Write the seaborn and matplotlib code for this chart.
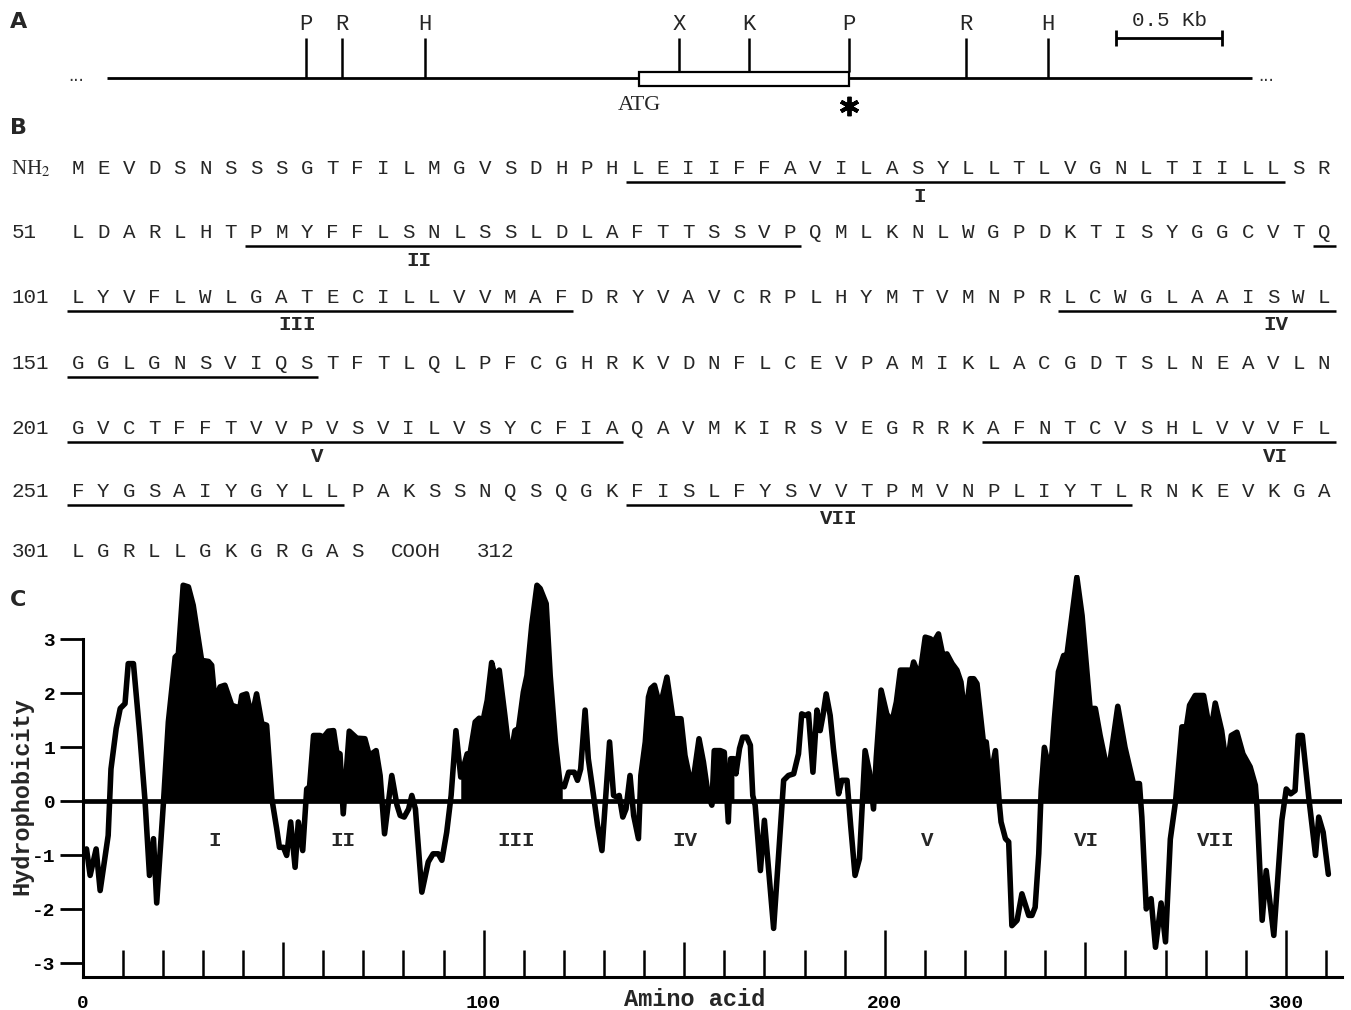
import numpy as np
import matplotlib
matplotlib.use("Agg")
import matplotlib.pyplot as plt
import seaborn as sns
from matplotlib.patches import Rectangle

# ---------------- data ----------------
# Panel A: restriction map (positions in kb from left end of the drawn line)
site_labels = ["P", "R", "H", "X", "K", "P", "R", "H"]
site_kb = [0.94, 1.11, 1.50, 2.70, 3.03, 3.50, 4.05, 4.44]
orf_kb = [2.51, 3.50]
map_len_kb = 5.40
scalebar_kb = [4.76, 5.26]
scalebar_label = "0.5 Kb"

# Panel B: amino-acid sequence (50 residues per row)
seq_rows = [
    "MEVDSNSSSGTFILMGVSDHPHLEIIFFAVILASYLLTLVGNLTIILLSR",
    "LDARLHTPMYFFLSNLSSLDLAFTTSSVPQMLKNLWGPDKTISYGGCVTQ",
    "LYVFLWLGATECILLVVMAFDRYVAVCRPLHYMTVMNPRLCWGLAAISWL",
    "GGLGNSVIQSTFTLQLPFCGHRKVDNFLCEVPAMIKLACGDTSLNEAVLN",
    "GVCTFFTVVPVSVILVSYCFIAQAVMKIRSVEGRRKAFNTCVSHLVVVFL",
    "FYGSAIYGYLLPAKSSNQSQGKFISLFYSVVTPMVNPLIYTLRNKEVKGA",
    "LGRLLGKGRGAS",
]
row_numbers = ["NH$_2$", "51", "101", "151", "201", "251", "301"]
tm_names = ["I", "II", "III", "IV", "V", "VI", "VII"]
tm_start = [23, 58, 100, 140, 201, 237, 273]
tm_end = [48, 79, 120, 160, 222, 261, 292]
tm_label_row = [0, 1, 2, 2, 4, 4, 5]
tm_label_col = [33.1, 13.4, 8.6, 47.1, 9.4, 47.1, 29.9]

# Panel C: hydrophobicity profile
residue = [1.0, 1.9, 3.4, 4.4, 6.4, 7.1, 8.4, 9.4, 10.6, 11.4, 12.7, 14.3, 15.6, 16.7,
           17.7, 18.5, 20.2, 21.4, 23.1, 23.9, 25.1, 26.4, 27.6, 29.7, 31.4, 32.2,
           33.0, 34.3, 35.5, 37.2, 38.3, 38.9, 39.7, 40.9, 42.2, 43.4, 44.7, 45.9,
           47.2, 48.4, 49.1, 50.1, 50.9, 51.9, 53.0, 53.8, 54.9, 55.9, 56.6, 57.6,
           59.2, 60.1, 61.3, 62.6, 63.4, 64.2, 65.0, 66.5, 68.4, 70.4, 71.5, 73.2,
           74.2, 75.3, 77.1, 78.4, 79.2, 80.2, 81.3, 82.1, 83.0, 84.6, 86.2, 87.4,
           88.7, 89.6, 90.8, 91.9, 93.1, 94.3, 95.9, 96.6, 97.9, 98.9, 99.9, 100.9,
           102.0, 102.8, 103.9, 105.3, 106.6, 107.8, 108.7, 109.9, 110.8, 112.0,
           113.3, 114.1, 115.6, 116.6, 117.9, 119.1, 120.1, 121.2, 122.6, 123.4,
           124.2, 125.3, 126.1, 127.4, 128.4, 129.5, 131.4, 132.4, 133.2, 133.8,
           134.7, 135.5, 136.5, 137.4, 138.6, 139.2, 140.3, 141.1, 141.7, 142.6,
           144.0, 145.7, 147.2, 149.2, 150.2, 151.5, 152.3, 153.7, 154.8, 156.0,
           156.9, 157.5, 159.0, 160.0, 161.0, 161.6, 162.4, 162.9, 163.8, 164.6,
           165.6, 166.5, 167.1, 167.7, 169.0, 170.0, 172.3, 174.8, 176.0, 177.3,
           178.5, 179.3, 180.2, 181.0, 182.1, 183.1, 183.9, 184.6, 185.4, 186.4,
           187.2, 188.5, 189.3, 190.6, 191.5, 192.6, 193.7, 195.1, 196.2, 197.2,
           197.9, 199.1, 200.5, 201.8, 202.9, 203.9, 205.9, 206.4, 207.2, 208.7,
           210.1, 211.4, 212.2, 213.4, 214.5, 215.5, 216.8, 218.0, 219.0, 220.1,
           221.3, 222.2, 223.0, 224.6, 225.3, 226.3, 227.6, 228.6, 229.0, 230.1,
           230.9, 231.7, 233.0, 234.2, 235.9, 236.7, 237.5, 238.4, 239.0, 239.8,
           241.3, 242.3, 243.3, 244.6, 245.4, 247.9, 249.2, 251.2, 252.5, 253.7,
           255.7, 258.1, 259.9, 262.0, 263.5, 264.1, 265.2, 266.4, 267.5, 268.9,
           270.0, 271.2, 272.5, 274.1, 275.2, 276.0, 277.4, 279.5, 281.2, 282.4,
           284.0, 285.3, 286.4, 287.8, 289.3, 291.1, 292.4, 292.8, 294.1, 295.1,
           297.0, 299.0, 300.1, 301.2, 302.3, 303.1, 304.1, 305.7, 307.4, 308.2,
           309.3, 310.6]
hydro = [-0.88, -1.37, -0.88, -1.65, -0.63, 0.60, 1.35, 1.72, 1.81, 2.55, 2.55, 1.22, 0.00, -1.37,
         -0.69, -1.88, 0.00, 1.47, 2.67, 2.73, 4.00, 3.97, 3.63, 2.61, 2.59, 2.52,
         1.87, 2.12, 2.15, 1.78, 1.75, 1.56, 1.96, 1.99, 1.56, 1.99, 1.44, 1.41,
         0.05, -0.50, -0.85, -0.85, -1.00, -0.38, -1.22, -0.38, -0.91, 0.23, 0.27, 1.22,
         1.22, 1.19, 1.30, 1.31, 0.91, 0.88, -0.23, 1.30, 1.17, 1.16, 0.85, 0.94,
         0.48, -0.60, 0.48, -0.07, -0.26, -0.29, -0.14, 0.11, -0.14, -1.68, -1.12, -0.97,
         -0.97, -1.09, -0.57, 0.11, 1.31, 0.45, 0.88, 0.88, 1.47, 1.54, 1.51, 1.87,
         2.57, 2.33, 2.43, 1.59, 0.76, 1.31, 1.35, 2.02, 2.33, 3.26,
         4.00, 3.94, 3.66, 2.33, 1.10, 0.30, 0.27, 0.54, 0.54, 0.39,
         0.60, 1.69, 0.79, 0.11, -0.44, -0.91, 1.10, 0.11, 0.08, 0.11,
         -0.29, -0.14, 0.48, -0.26, -0.69, 0.48, 1.10, 1.93, 2.09, 2.15,
         1.75, 2.30, 1.53, 1.53, 0.85, 0.39, 0.42, 1.16, 0.73, 0.11,
         -0.07, 0.94, 0.94, 0.91, -0.38, 0.79, 0.79, 0.51, 0.98, 1.19,
         1.19, 1.04, 0.11, -0.07, -1.28, -0.35, -2.35, 0.39, 0.48, 0.51,
         0.88, 1.62, 1.59, 1.62, 0.54, 1.69, 1.31, 1.59, 1.99, 1.59,
         0.98, 0.14, 0.39, 0.39, -0.44, -1.37, -1.06, 0.94, 0.54, -0.14,
         0.82, 2.06, 1.62, 1.47, 1.84, 2.43, 2.43, 2.30, 2.58, 2.30,
         3.04, 3.01, 2.95, 3.10, 2.70, 2.73, 2.55, 2.43, 2.21, 1.53,
         2.27, 2.27, 2.18, 1.10, 1.10, 0.43, 0.94, -0.07, -0.38, -0.69,
         -0.75, -2.30, -2.20, -1.71, -2.11, -2.11, -1.96, -0.97, 0.20, 1.00,
         0.51, 1.53, 2.40, 2.70, 2.70, 4.15, 3.44, 1.72, 1.72, 1.22,
         0.50, 1.76, 1.00, 0.33, 0.33, -0.29, -1.99, -1.80, -2.70, -1.88,
         -2.60, -0.70, 0.00, 1.38, 1.38, 1.78, 1.96, 1.96, 1.25, 1.82,
         1.31, 0.60, 1.22, 1.28, 0.88, 0.64, 0.30, -0.10, -2.20, -1.28,
         -2.48, -0.35, 0.23, 0.14, 0.20, 1.22, 1.22, 0.08, -1.00, -0.29,
         -0.57, -1.35]
fill_start = [20.2, 55.7, 94.3, 139.0, 194.0, 239.0, 272.5]
fill_end = [47.2, 75.0, 119.6, 162.4, 228.5, 264.0, 292.7]
tm_label_res = [33.0, 65.0, 108.1, 150.2, 210.5, 250.4, 282.4]
tm_label_value = -0.72
y_ticks = [-3, -2, -1, 0, 1, 2, 3]
x_major = [0, 100, 200, 300]
x_minor = [v for v in range(10, 320, 10) if v % 50 != 0]
x_medium = [50, 150, 250]

# ---------------- style ----------------
sns.set_theme(style="white")
plt.rcParams["font.family"] = ["Liberation Mono", "DejaVu Sans"]
plt.rcParams["axes.unicode_minus"] = False
plt.rcParams["mathtext.fontset"] = "stix"

W, H = 1351, 1010
fig = plt.figure(figsize=(W / 100, H / 100), dpi=100)
fig.patch.set_facecolor("white")
MONO = "Liberation Mono"

# ---------------- panel A ----------------
px_per_kb = 212.0
x0_px = 107.0
axA = fig.add_axes([0, 0, 1, 1], facecolor="none")
axA.set_xlim(-x0_px / px_per_kb, (W - x0_px) / px_per_kb)
axA.set_ylim(H, 0)
axA.axis("off")
axA.hlines(78, 0, orf_kb[0], color="black", lw=2.0)
axA.hlines(78, orf_kb[1], map_len_kb, color="black", lw=2.0)
axA.add_patch(Rectangle((orf_kb[0], 72), orf_kb[1] - orf_kb[0], 14,
                        facecolor="white", edgecolor="black", lw=1.6, zorder=3))
for lab, kb in zip(site_labels, site_kb):
    inside = orf_kb[0] <= kb <= orf_kb[1]
    axA.vlines(kb, 38, 72 if inside else 78, color="black", lw=1.8, zorder=4)
    axA.text(kb, 25, lab, ha="center", va="center", fontsize=16, family=MONO)
axA.text(-0.11, 81, "...", ha="right", va="baseline", fontsize=12, family="DejaVu Sans",
         color="#333333")
axA.text(map_len_kb + 0.03, 81, "...", ha="left", va="baseline", fontsize=12,
         family="DejaVu Sans", color="#333333")
axA.text(orf_kb[0], 106, "ATG", ha="center", va="center", fontsize=16, family="Liberation Serif")
axA.plot([orf_kb[1]], [106], marker=(6, 2, 0), ms=14, mew=2.8, color="black")
axA.hlines(38, scalebar_kb[0], scalebar_kb[1], color="black", lw=2.0)
axA.vlines(scalebar_kb, 30, 46, color="black", lw=2.0)
axA.text(np.mean(scalebar_kb), 20, scalebar_label, ha="center", va="center",
         fontsize=15, family=MONO)

# ---------------- panel B ----------------
col0_px = 78.0
col_px = 25.43
row_y = [167, 231, 296, 362, 427, 490, 550]
axB = fig.add_axes([0, 0, 1, 1], facecolor="none")
axB.set_xlim(-col0_px / col_px, (W - col0_px) / col_px)
axB.set_ylim(H, 0)
axB.axis("off")
for k, row in enumerate(seq_rows):
    y = row_y[k]
    for i, aa in enumerate(row):
        axB.text(i, y + 7, aa, ha="center", va="baseline", fontsize=15, family=MONO)
    if k == 0:
        axB.text(-2.65, y + 7, row_numbers[k], ha="left", va="baseline", fontsize=15,
                 family="Liberation Serif")
    else:
        axB.text(-2.6, y + 7, row_numbers[k], ha="left", va="baseline", fontsize=15,
                 family=MONO)
axB.text(13.3, row_y[6] + 7, "COOH", ha="center", va="baseline", fontsize=15, family=MONO)
axB.text(16.4, row_y[6] + 7, "312", ha="center", va="baseline", fontsize=15, family=MONO)

for s, e in zip(tm_start, tm_end):
    r = s
    while r <= e:
        row = (r - 1) // 50
        row_last = min(e, (row + 1) * 50)
        i0 = (r - 1) % 50
        i1 = (row_last - 1) % 50
        axB.plot([i0 - 0.45, i1 + 0.45], [row_y[row] + 15] * 2, color="black",
                 lw=1.8, solid_capstyle="butt")
        r = row_last + 1
for name, rw, col in zip(tm_names, tm_label_row, tm_label_col):
    axB.text(col, row_y[rw] + 29, name, ha="center", va="center", fontsize=15,
             family=MONO, fontweight="bold")

# panel letters
for letter, ypx in zip(["A", "B", "C"], [22, 128, 600]):
    fig.text(10 / W, 1 - ypx / H, letter, ha="left", va="center", fontsize=16,
             family="DejaVu Sans", fontweight="bold")

# ---------------- panel C ----------------
axC = fig.add_axes([82.5 / W, (H - 977) / H, 1259.5 / W, 402 / H], facecolor="none")
for a, b in zip(fill_start, fill_end):
    xf = np.linspace(a, b, 400)
    yf = np.interp(xf, residue, hydro)
    axC.fill_between(xf, 0, np.clip(yf, 0, None), color="black", lw=0, zorder=2)
sns.lineplot(x=residue, y=hydro, ax=axC, color="black", lw=4.0, estimator=None,
             sort=False, zorder=3)
axC.axhline(0, color="black", lw=3.4, zorder=4)
axC.set_xlim(0, 314)
axC.set_ylim(-3.25, 4.19)

for name, xr in zip(tm_names, tm_label_res):
    axC.text(xr, tm_label_value, name, ha="center", va="center", fontsize=15,
             family=MONO, fontweight="bold")

for side in ["top", "right"]:
    axC.spines[side].set_visible(False)
axC.spines["left"].set_bounds(-3.25, 3)
axC.spines["left"].set_linewidth(2.2)
axC.spines["bottom"].set_linewidth(2.2)
axC.spines["left"].set_color("black")
axC.spines["bottom"].set_color("black")

axC.set_yticks(y_ticks)
axC.set_yticklabels([str(v) for v in y_ticks])
axC.tick_params(axis="y", direction="out", length=16.5, width=2.0, pad=3,
                labelsize=14, left=True, colors="black")
axC.set_xticks(x_major)
axC.set_xticklabels([str(v) for v in x_major])
axC.set_xticks(x_minor, minor=True)
axC.tick_params(axis="x", which="major", direction="in", length=34, width=1.8,
                pad=13, labelsize=14, bottom=True, colors="black")
axC.tick_params(axis="x", which="minor", direction="in", length=19.5, width=1.8,
                bottom=True, colors="black")
axC.vlines(x_medium, -3.25, -3.25 + 35 / 54, color="black", lw=1.8, zorder=1)
for lab in axC.get_xticklabels() + axC.get_yticklabels():
    lab.set_fontweight("bold")
    lab.set_family(MONO)

axC.set_ylabel("Hydrophobicity", fontsize=17, fontweight="bold", family=MONO, va="center")
axC.yaxis.set_label_coords(-0.048, 0.45)
axC.set_xlabel("Amino acid", fontsize=17, fontweight="bold", family=MONO, va="center")
axC.xaxis.set_label_coords(0.486, -0.057)
axC.grid(False)

fig.savefig("out.png", dpi=100, facecolor="white")
